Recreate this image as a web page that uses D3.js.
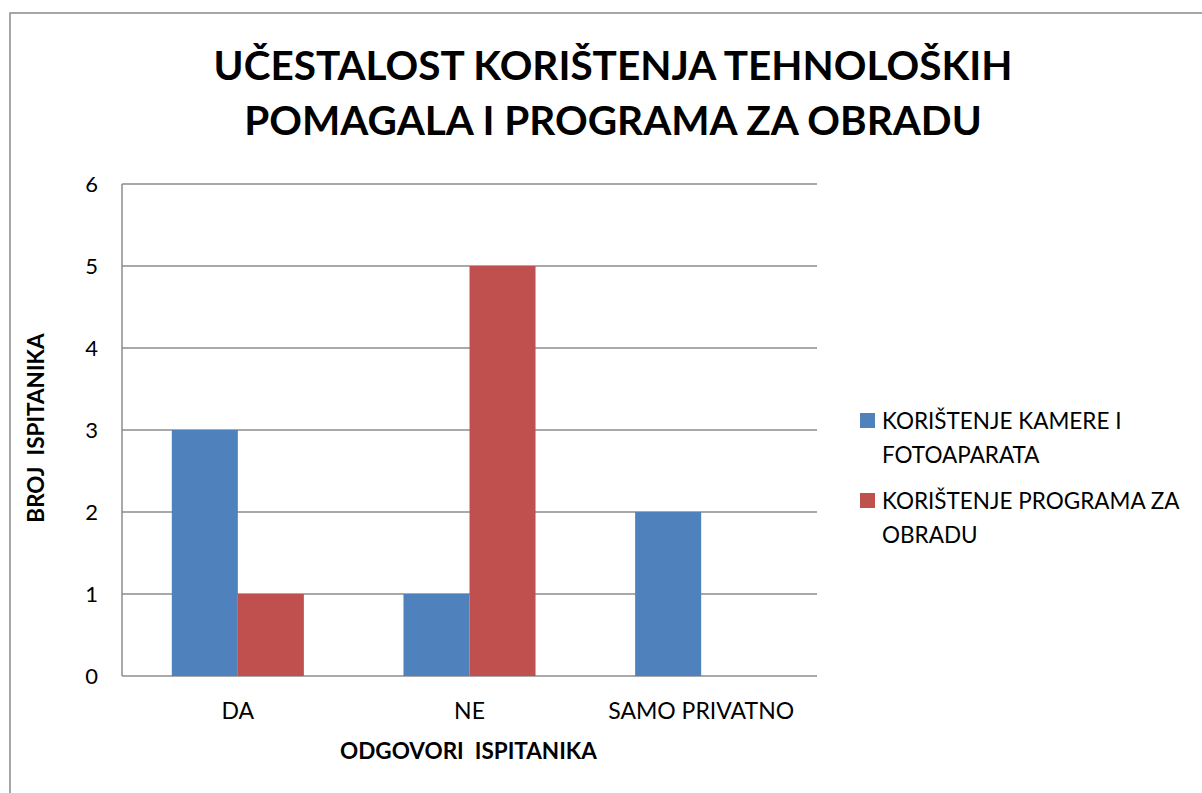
<!DOCTYPE html>
<html>
<head>
<meta charset="utf-8">
<script src="https://cdn.jsdelivr.net/npm/d3@7"></script>
<style>
  body { margin: 0; background: #fff; }
  text { font-family: Lato, "Open Sans", sans-serif; fill: #000; white-space: pre; }
</style>
</head>
<body>
<div id="chart"></div>
<script>
// data
var categories = ['DA', 'NE', 'SAMO PRIVATNO'];
var seriesNames = ['KORIŠTENJE KAMERE I FOTOAPARATA', 'KORIŠTENJE PROGRAMA ZA OBRADU'];
var legendLines = [['KORIŠTENJE KAMERE I', 'FOTOAPARATA'], ['KORIŠTENJE PROGRAMA ZA', 'OBRADU']];
var kamera = [3, 1, 2];
var program = [1, 5, 0];
var yTicks = [0, 1, 2, 3, 4, 5, 6];
var titleLines = ['UČESTALOST KORIŠTENJA TEHNOLOŠKIH', 'POMAGALA I PROGRAMA ZA OBRADU'];
var colors = ['#4F81BD', '#C0504D'];

var W = 1202, H = 793;
var margin = {top: 184, left: 122, right: 385, bottom: 117};
var width = W - margin.left - margin.right;   // ~695
var height = H - margin.top - margin.bottom;  // 492

var svg = d3.select('#chart').append('svg')
    .attr('width', W)
    .attr('height', H);

// outer frame (runs off right/bottom edge)
svg.append('rect')
    .attr('x', 10).attr('y', 13)
    .attr('width', W + 20).attr('height', H + 20)
    .attr('fill', 'none')
    .attr('stroke', '#898989')
    .attr('stroke-width', 1.5);

// title
svg.append('g').selectAll('text')
    .data(titleLines)
    .enter().append('text')
    .attr('x', 613)
    .attr('y', function(d, i){ return 80 + i * 55; })
    .attr('text-anchor', 'middle')
    .style('font-size', '40.5px')
    .style('font-weight', 'bold')
    .text(function(d){ return d; });

var g = svg.append('g').attr('transform', 'translate(' + margin.left + ',' + margin.top + ')');

var x0 = d3.scaleBand().domain(categories).range([0, width]).paddingInner(0.43).paddingOuter(0.215);
var x1 = d3.scaleBand().domain([0, 1]).range([0, x0.bandwidth()]);
var y = d3.scaleLinear().domain([0, 6]).range([height, 0]);

// gridlines
g.append('g').selectAll('line')
    .data(yTicks)
    .enter().append('line')
    .attr('x1', 0).attr('x2', width)
    .attr('y1', function(d){ return y(d); })
    .attr('y2', function(d){ return y(d); })
    .attr('stroke', '#8c8c8c')
    .attr('stroke-width', 1.5);

// left axis line
g.append('line')
    .attr('x1', 0).attr('x2', 0)
    .attr('y1', 0).attr('y2', height)
    .attr('stroke', '#8c8c8c')
    .attr('stroke-width', 1.5);

// y tick labels
g.append('g').selectAll('text')
    .data(yTicks)
    .enter().append('text')
    .attr('x', -24)
    .attr('y', function(d){ return y(d) + 8; })
    .attr('text-anchor', 'end')
    .style('font-size', '22px')
    .text(function(d){ return d; });

// bars
var rows = categories.map(function(c, i){ return {cat: c, vals: [kamera[i], program[i]]}; });
var grp = g.append('g').selectAll('g')
    .data(rows)
    .enter().append('g')
    .attr('transform', function(d){ return 'translate(' + x0(d.cat) + ',0)'; });

grp.selectAll('rect')
    .data(function(d){ return d.vals.map(function(v, j){ return {j: j, v: v}; }); })
    .enter().append('rect')
    .attr('x', function(d){ return x1(d.j); })
    .attr('width', x1.bandwidth())
    .attr('y', function(d){ return y(d.v); })
    .attr('height', function(d){ return height - y(d.v); })
    .attr('fill', function(d){ return colors[d.j]; });

// category labels
g.append('g').selectAll('text')
    .data(categories)
    .enter().append('text')
    .attr('x', function(d){ return x0(d) + x0.bandwidth() / 2; })
    .attr('y', height + 43)
    .attr('text-anchor', 'middle')
    .style('font-size', '23px')
    .text(function(d){ return d; });

// axis titles
g.append('text')
    .attr('x', width / 2 - 1)
    .attr('y', height + 83)
    .attr('text-anchor', 'middle')
    .style('font-size', '22.5px')
    .style('font-weight', 'bold')
    .text('ODGOVORI  ISPITANIKA');

svg.append('text')
    .attr('transform', 'translate(36,' + 428 + ') rotate(-90)')
    .attr('text-anchor', 'middle')
    .attr('dy', 8)
    .style('font-size', '22.5px')
    .style('font-weight', 'bold')
    .text('BROJ  ISPITANIKA');

// legend
var legend = svg.append('g').selectAll('g')
    .data(seriesNames)
    .enter().append('g')
    .attr('transform', function(d, i){ return 'translate(860,' + (413 + i * 80) + ')'; });

legend.append('rect')
    .attr('width', 15).attr('height', 15)
    .attr('fill', function(d, i){ return colors[i]; });

legend.append('text')
    .attr('x', 22)
    .attr('y', 16)
    .style('font-size', '22.5px')
    .selectAll('tspan')
    .data(function(d, i){ return legendLines[i]; })
    .enter().append('tspan')
    .attr('x', 22)
    .attr('dy', function(d, k){ return k === 0 ? 0 : 34; })
    .text(function(d){ return d; });
</script>
</body>
</html>
